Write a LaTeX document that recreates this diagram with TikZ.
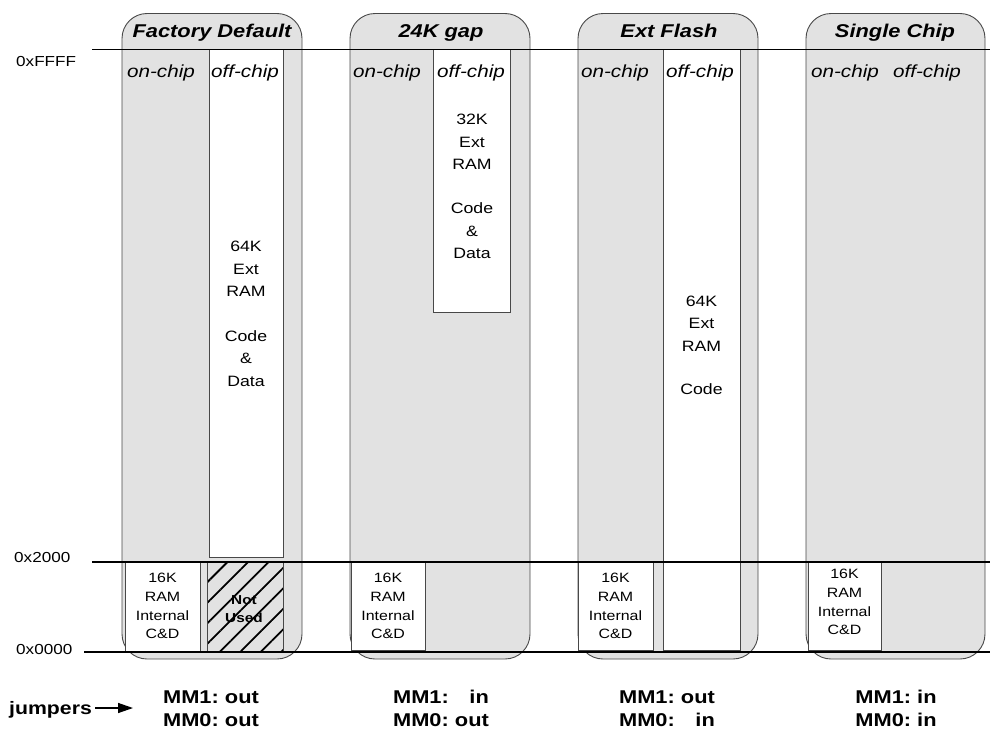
\documentclass[tikz,border=0pt]{standalone}
\usepackage{fontspec}
\setmainfont{Liberation Sans}[FakeStretch=1.18]
\usetikzlibrary{arrows.meta,patterns.meta}
\definecolor{boxgray}{HTML}{E2E2E2}
\definecolor{edgegray}{HTML}{484848}
\newcommand\fsz[2]{\fontsize{#1}{#2}\selectfont}
\begin{document}
\begin{tikzpicture}[x=1pt,y=-1pt,
  membox/.style={draw=edgegray, fill=boxgray, line width=0.9pt, rounded corners=25pt},
  region/.style={draw=edgegray, fill=white, line width=0.9pt},
  hatchbox/.style={draw=edgegray, line width=0.9pt, pattern={Lines[angle=45,distance=14.5pt,line width=1.8pt]}},
  level/.style={draw=black, line width=1.4pt},
  ttl/.style={font=\fsz{18.5}{22}\bfseries\itshape, anchor=base, inner sep=0pt},
  col/.style={font=\fsz{17.5}{20}\itshape, anchor=base, inner sep=0pt},
  blk/.style={font=\fsz{15}{22.4}, align=center, inner sep=0pt},
  smallblk/.style={font=\fsz{13.5}{18.7}, align=center, inner sep=0pt},
  nused/.style={font=\fsz{13}{18}\bfseries, align=center, inner sep=0pt},
  addr/.style={font=\fsz{14.5}{16}, anchor=base west, inner sep=0pt},
  mm/.style={font=\fsz{18.5}{23}\bfseries, anchor=base, inner sep=0pt},
  jmp/.style={font=\fsz{18}{22}\bfseries, anchor=base west, inner sep=3pt}
]
\useasboundingbox (0,0) rectangle (990,728);
% rounded configuration boxes
\draw[membox] (122,13.5) rectangle (302,659);
\draw[membox] (350,13.5) rectangle (530,659);
\draw[membox] (578,13.5) rectangle (758,659);
\draw[membox] (806,13.5) rectangle (985,659);
% off-chip regions
\draw[region] (209,49) rectangle (283,557);
\draw[region] (433,49) rectangle (510,312);
\draw[region] (663,49) rectangle (740,650);
% internal RAM boxes
\draw[region] (125,562) rectangle (200,651);
\draw[hatchbox] (207,562) rectangle (283,651);
\draw[region] (351,562) rectangle (425,650);
\draw[region] (578,562) rectangle (653,650);
\draw[region] (808,562) rectangle (881,650);
% address levels
\draw[level] (92,49.5) -- (990,49.5);
\draw[level] (92,562) -- (990,562);
\draw[level] (84,652) -- (990,652);
% address labels
\node[addr] (aF) at (16,66) {0xFFFF};
\node[addr] (a2) at (14,562.7) {0x2000};
\node[addr] (a0) at (16,654) {0x0000};
% titles
\node[ttl] (t1) at (212,37) {Factory Default};
\node[ttl] (t2) at (441,37) {24K gap};
\node[ttl] (t3) at (669,37) {Ext Flash};
\node[ttl] (t4) at (895,37) {Single Chip};
% column labels
\node[col] (on1) at (161,77) {on-chip};
\node[col] (off1) at (245,77) {off-chip};
\node[col] (on2) at (387,77) {on-chip};
\node[col] (off2) at (471,77) {off-chip};
\node[col] (on3) at (615,77) {on-chip};
\node[col] (off3) at (700,77) {off-chip};
\node[col] (on4) at (845,77) {on-chip};
\node[col] (off4) at (927,77) {off-chip};
% memory contents
\node[blk] (m1) at (246,314) {64K\\Ext\\RAM\\[22.4pt]Code\\\&\\Data};
\node[blk] (m2) at (472,186.5) {32K\\Ext\\RAM\\[22.1pt]Code\\\&\\Data};
\node[blk] (m3) at (701.5,345.5) {64K\\Ext\\RAM\\[21pt]Code};
\node[smallblk] (i1) at (162.5,606) {16K\\RAM\\Internal\\C\&D};
\node[smallblk] (i2) at (388,606) {16K\\RAM\\Internal\\C\&D};
\node[smallblk] (i3) at (615.5,606) {16K\\RAM\\Internal\\C\&D};
\node[smallblk] (i4) at (844.5,602) {16K\\RAM\\Internal\\C\&D};
\node[nused] (nu) at (244,609.5) {Not\\Used};
% jumpers
\node[jmp] (jumpers) at (6,714) {jumpers};
\coordinate (jt) at (133,708);
\draw[line width=1.4pt, -{Triangle[length=15pt,width=10pt]}] (jumpers.east |- jt) -- (jt);
\node[mm] (j1) at (211,703) {\begin{tabular}[t]{@{}l@{\ }r@{}}MM1: & out\\ MM0: & out\end{tabular}};
\node[mm] (j2) at (441,703) {\begin{tabular}[t]{@{}l@{\ }r@{}}MM1: & in\\ MM0: & out\end{tabular}};
\node[mm] (j3) at (667,703) {\begin{tabular}[t]{@{}l@{\ }r@{}}MM1: & out\\ MM0: & in\end{tabular}};
\node[mm] (j4) at (896,703) {\begin{tabular}[t]{@{}l@{\ }r@{}}MM1: & in\\ MM0: & in\end{tabular}};
\end{tikzpicture}
\end{document}
